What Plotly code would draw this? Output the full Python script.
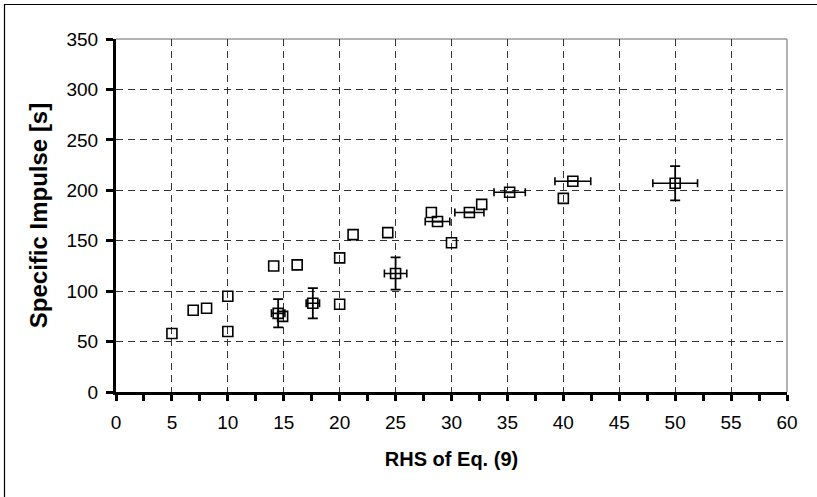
import plotly.graph_objects as go

# Points without error bars
x_plain = [5.0, 6.9, 8.1, 10.0, 10.0, 14.1, 14.9, 16.2, 20.0, 20.0, 21.2, 24.3, 28.2, 30.0, 32.7, 40.0]
y_plain = [58, 81, 83, 95, 60, 125, 75, 126, 133, 87, 156, 158, 178, 148, 186, 192]

# Points with error bars
x_err = [14.5, 17.6, 25.0, 28.75, 31.6, 35.2, 40.85, 50.0]
y_err = [78, 88, 117.5, 169, 178, 198, 209, 207]
ex = [0.6, 0.6, 1.0, 1.1, 1.3, 1.4, 1.6, 2.0]
ey = [14, 15, 16, 0, 0, 0, 0, 17]

x_title = "RHS of Eq. (9)"
y_title = "Specific Impulse [s]"

marker = dict(symbol="square-open", size=10, color="black", line=dict(width=1.6, color="black"))

fig = go.Figure()
fig.add_trace(go.Scatter(x=x_plain, y=y_plain, mode="markers", marker=marker, showlegend=False))
fig.add_trace(go.Scatter(
    x=x_err, y=y_err, mode="markers", marker=marker, showlegend=False,
    error_x=dict(type="data", array=ex, visible=True, color="black", thickness=1.6, width=4),
    error_y=dict(type="data", array=ey, visible=True, color="black", thickness=1.8, width=5),
))

font = "Liberation Sans, Arial, sans-serif"
fig.update_layout(
    width=817, height=497,
    margin=dict(l=116, r=30, t=39, b=105),
    paper_bgcolor="white", plot_bgcolor="white",
    font=dict(family=font, size=19, color="black"),
    xaxis=dict(
        range=[0, 60], dtick=5, tick0=0,
        showline=True, linecolor="black", linewidth=3,
        ticks="outside", ticklen=6, tickwidth=2.5, tickcolor="black",
        minor=dict(dtick=2.5, ticks="outside", ticklen=6, tickwidth=2.5, tickcolor="black", showgrid=False),
        showgrid=True, gridcolor="#333333", gridwidth=1, griddash="7px,5px",
        zeroline=False,
        ticklabelstandoff=5,
        title=dict(text="<b>" + x_title + "</b>", font=dict(size=20), standoff=21),
        tickfont=dict(size=19),
    ),
    yaxis=dict(
        range=[0, 350], dtick=50, tick0=0,
        showline=True, linecolor="black", linewidth=3,
        ticks="outside", ticklen=7, tickwidth=2.5, tickcolor="black",
        showgrid=True, gridcolor="#333333", gridwidth=1, griddash="7px,5px",
        zeroline=False,
        ticklabelstandoff=4,
        title=dict(text="<b>" + y_title + "</b>", font=dict(size=24), standoff=13),
        tickfont=dict(size=19),
    ),
    shapes=[
        # gray top and right border of plot area
        dict(type="line", xref="paper", yref="paper", x0=0, x1=1, y0=1, y1=1,
             line=dict(color="#999999", width=1.5), layer="below"),
        dict(type="line", xref="paper", yref="paper", x0=1, x1=1, y0=0, y1=1,
             line=dict(color="#999999", width=1.5), layer="below"),
        # outer chart border
        dict(type="rect", xref="paper", yref="paper",
             x0=(4.5 - 116) / 671, x1=(830 - 116) / 671,
             y0=(392 - 510) / 353, y1=(392 - 4.5) / 353,
             line=dict(color="black", width=1.2)),
    ],
)

fig.write_html("out.html", config={"displayModeBar": False},
               post_script="document.body.style.margin='0';document.body.style.overflow='hidden';")
